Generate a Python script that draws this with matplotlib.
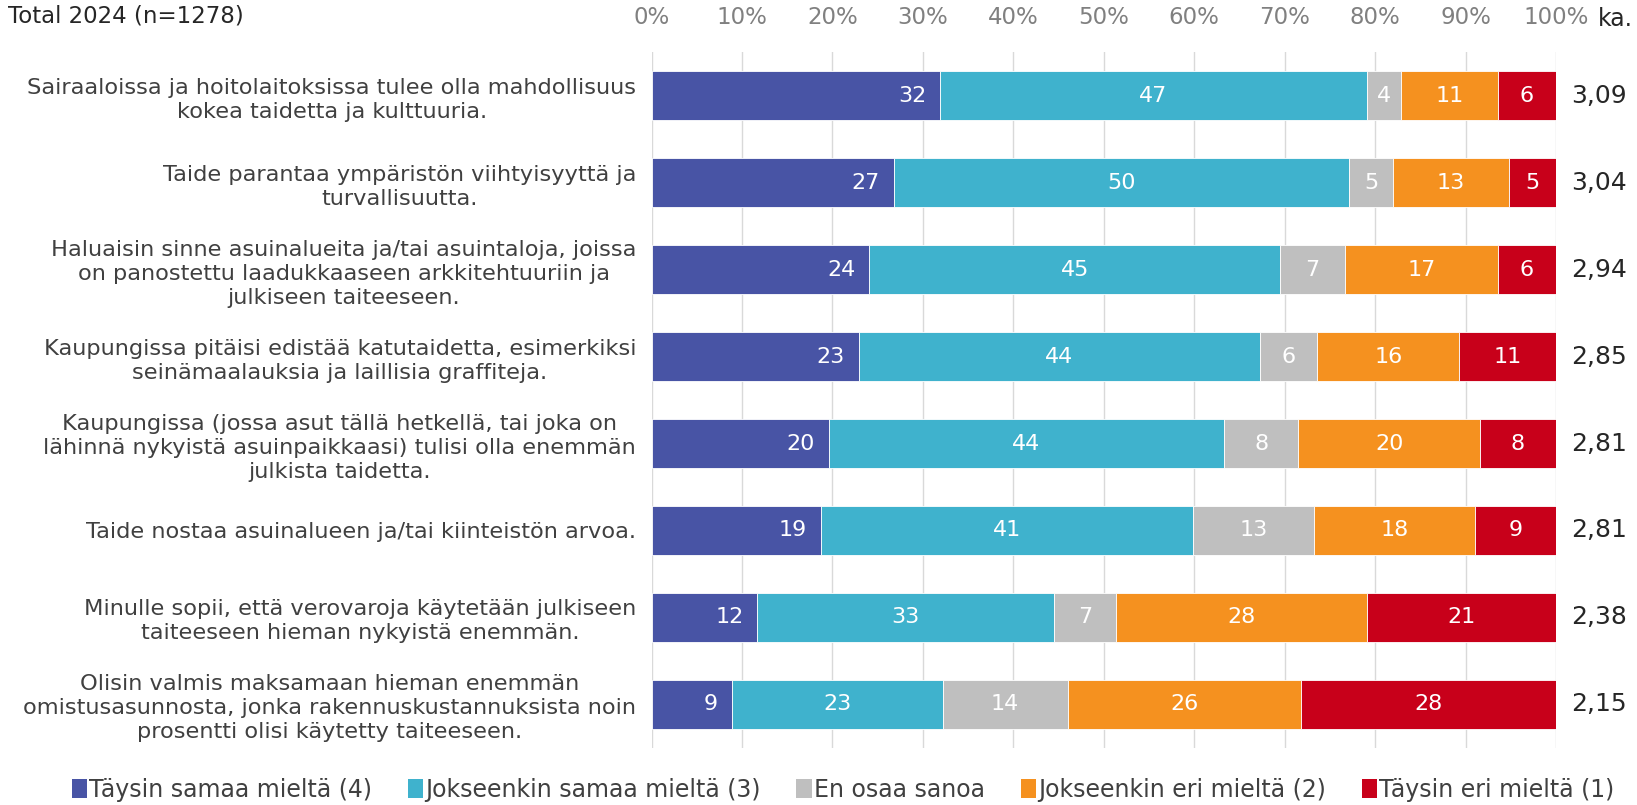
import matplotlib.pyplot as plt
from matplotlib.patches import Patch
from matplotlib.transforms import blended_transform_factory

# -------------------------
# DATA
# -------------------------
categories = [
    "Sairaaloissa ja hoitolaitoksissa tulee olla mahdollisuus\nkokea taidetta ja kulttuuria.",
    "Taide parantaa ympäristön viihtyisyyttä ja\nturvallisuutta.",
    "Haluaisin sinne asuinalueita ja/tai asuintaloja, joissa\non panostettu laadukkaaseen arkkitehtuuriin ja\njulkiseen taiteeseen.",
    "Kaupungissa pitäisi edistää katutaidetta, esimerkiksi\nseinämaalauksia ja laillisia graffiteja.",
    "Kaupungissa (jossa asut tällä hetkellä, tai joka on\nlähinnä nykyistä asuinpaikkaasi) tulisi olla enemmän\njulkista taidetta.",
    "Taide nostaa asuinalueen ja/tai kiinteistön arvoa.",
    "Minulle sopii, että verovaroja käytetään julkiseen\ntaiteeseen hieman nykyistä enemmän.",
    "Olisin valmis maksamaan hieman enemmän\nomistusasunnosta, jonka rakennuskustannuksista noin\nprosentti olisi käytetty taiteeseen.",
]

series_names = [
    "Täysin samaa mieltä (4)",
    "Jokseenkin samaa mieltä (3)",
    "En osaa sanoa",
    "Jokseenkin eri mieltä (2)",
    "Täysin eri mieltä (1)",
]

taysin_samaa = [31.9, 26.8, 24.1, 22.9, 19.6, 18.7, 11.7, 8.9]
jokseenkin_samaa = [47.2, 50.3, 45.4, 44.4, 43.7, 41.2, 32.8, 23.3]
en_osaa = [3.8, 4.9, 7.2, 6.3, 8.2, 13.4, 6.9, 13.8]
jokseenkin_eri = [10.7, 12.8, 16.9, 15.7, 20.1, 17.8, 27.7, 25.8]
taysin_eri = [6.4, 5.2, 6.4, 10.7, 8.4, 8.9, 20.9, 28.2]

averages = ["3,09", "3,04", "2,94", "2,85", "2,81", "2,81", "2,38", "2,15"]

colors = ["#4854A5", "#3FB2CD", "#BFBFBF", "#F5911F", "#C8001A"]

# -------------------------
# PLOT
# -------------------------
plt.rcParams["font.family"] = ["DejaVu Sans"]

fig = plt.figure(figsize=(16.37, 8.05), dpi=100)
ax = fig.add_axes([0.398, 0.071, 0.5525, 0.864])

series = [taysin_samaa, jokseenkin_samaa, en_osaa, jokseenkin_eri, taysin_eri]
y = list(range(len(categories)))

left = [0.0] * len(categories)
for i, vals in enumerate(series):
    ax.barh(y, vals, left=left, height=0.56, color=colors[i],
            edgecolor="white", linewidth=0.6, zorder=3)
    for j, v in enumerate(vals):
        if i == 0:
            ax.annotate(f"{round(v)}", (left[j] + v, j), xytext=(-10, 0),
                        textcoords="offset points", ha="right", va="center",
                        color="white", fontsize=16, zorder=4)
        else:
            ax.text(left[j] + v / 2, j, f"{round(v)}", ha="center",
                    va="center", color="white", fontsize=16, zorder=4)
    left = [a + b for a, b in zip(left, vals)]

ax.set_xlim(0, 100)
ax.set_ylim(len(categories) - 0.5, -0.5)

ax.xaxis.tick_top()
ax.set_xticks(range(0, 101, 10))
ax.set_xticklabels([f"{t}%" for t in range(0, 101, 10)], color="#808080",
                   fontsize=16.5)
ax.tick_params(axis="x", length=0, pad=17)
ax.set_yticks(y)
ax.set_yticklabels(categories, fontsize=16.2, color="#404040",
                   multialignment="center", linespacing=1.25)
ax.tick_params(axis="y", length=0, pad=11)

ax.grid(axis="x", color="#D9D9D9", linewidth=1, zorder=0)
for s in ax.spines.values():
    s.set_visible(False)

trans = blended_transform_factory(ax.transAxes, ax.transData)
for j, a in enumerate(averages):
    ax.text(1.017, j, a, transform=trans, ha="left", va="center",
            fontsize=18, color="#262626")

fig.text(0.9866, 0.976, "ka.", ha="center", va="center", fontsize=17,
         color="#262626")
fig.text(0.005, 0.98, "Total 2024 (n=1278)", ha="left", va="center",
         fontsize=16.5, color="#262626")

handles = [Patch(facecolor=c, edgecolor="none") for c in colors]
fig.legend(handles, series_names, loc="center", bbox_to_anchor=(0.515, 0.019),
           ncol=5, frameon=False, fontsize=17, handlelength=0.65,
           handleheight=0.8, handletextpad=0.1, columnspacing=1.5,
           labelcolor="#404040")

fig.savefig("out.png", dpi=100)
